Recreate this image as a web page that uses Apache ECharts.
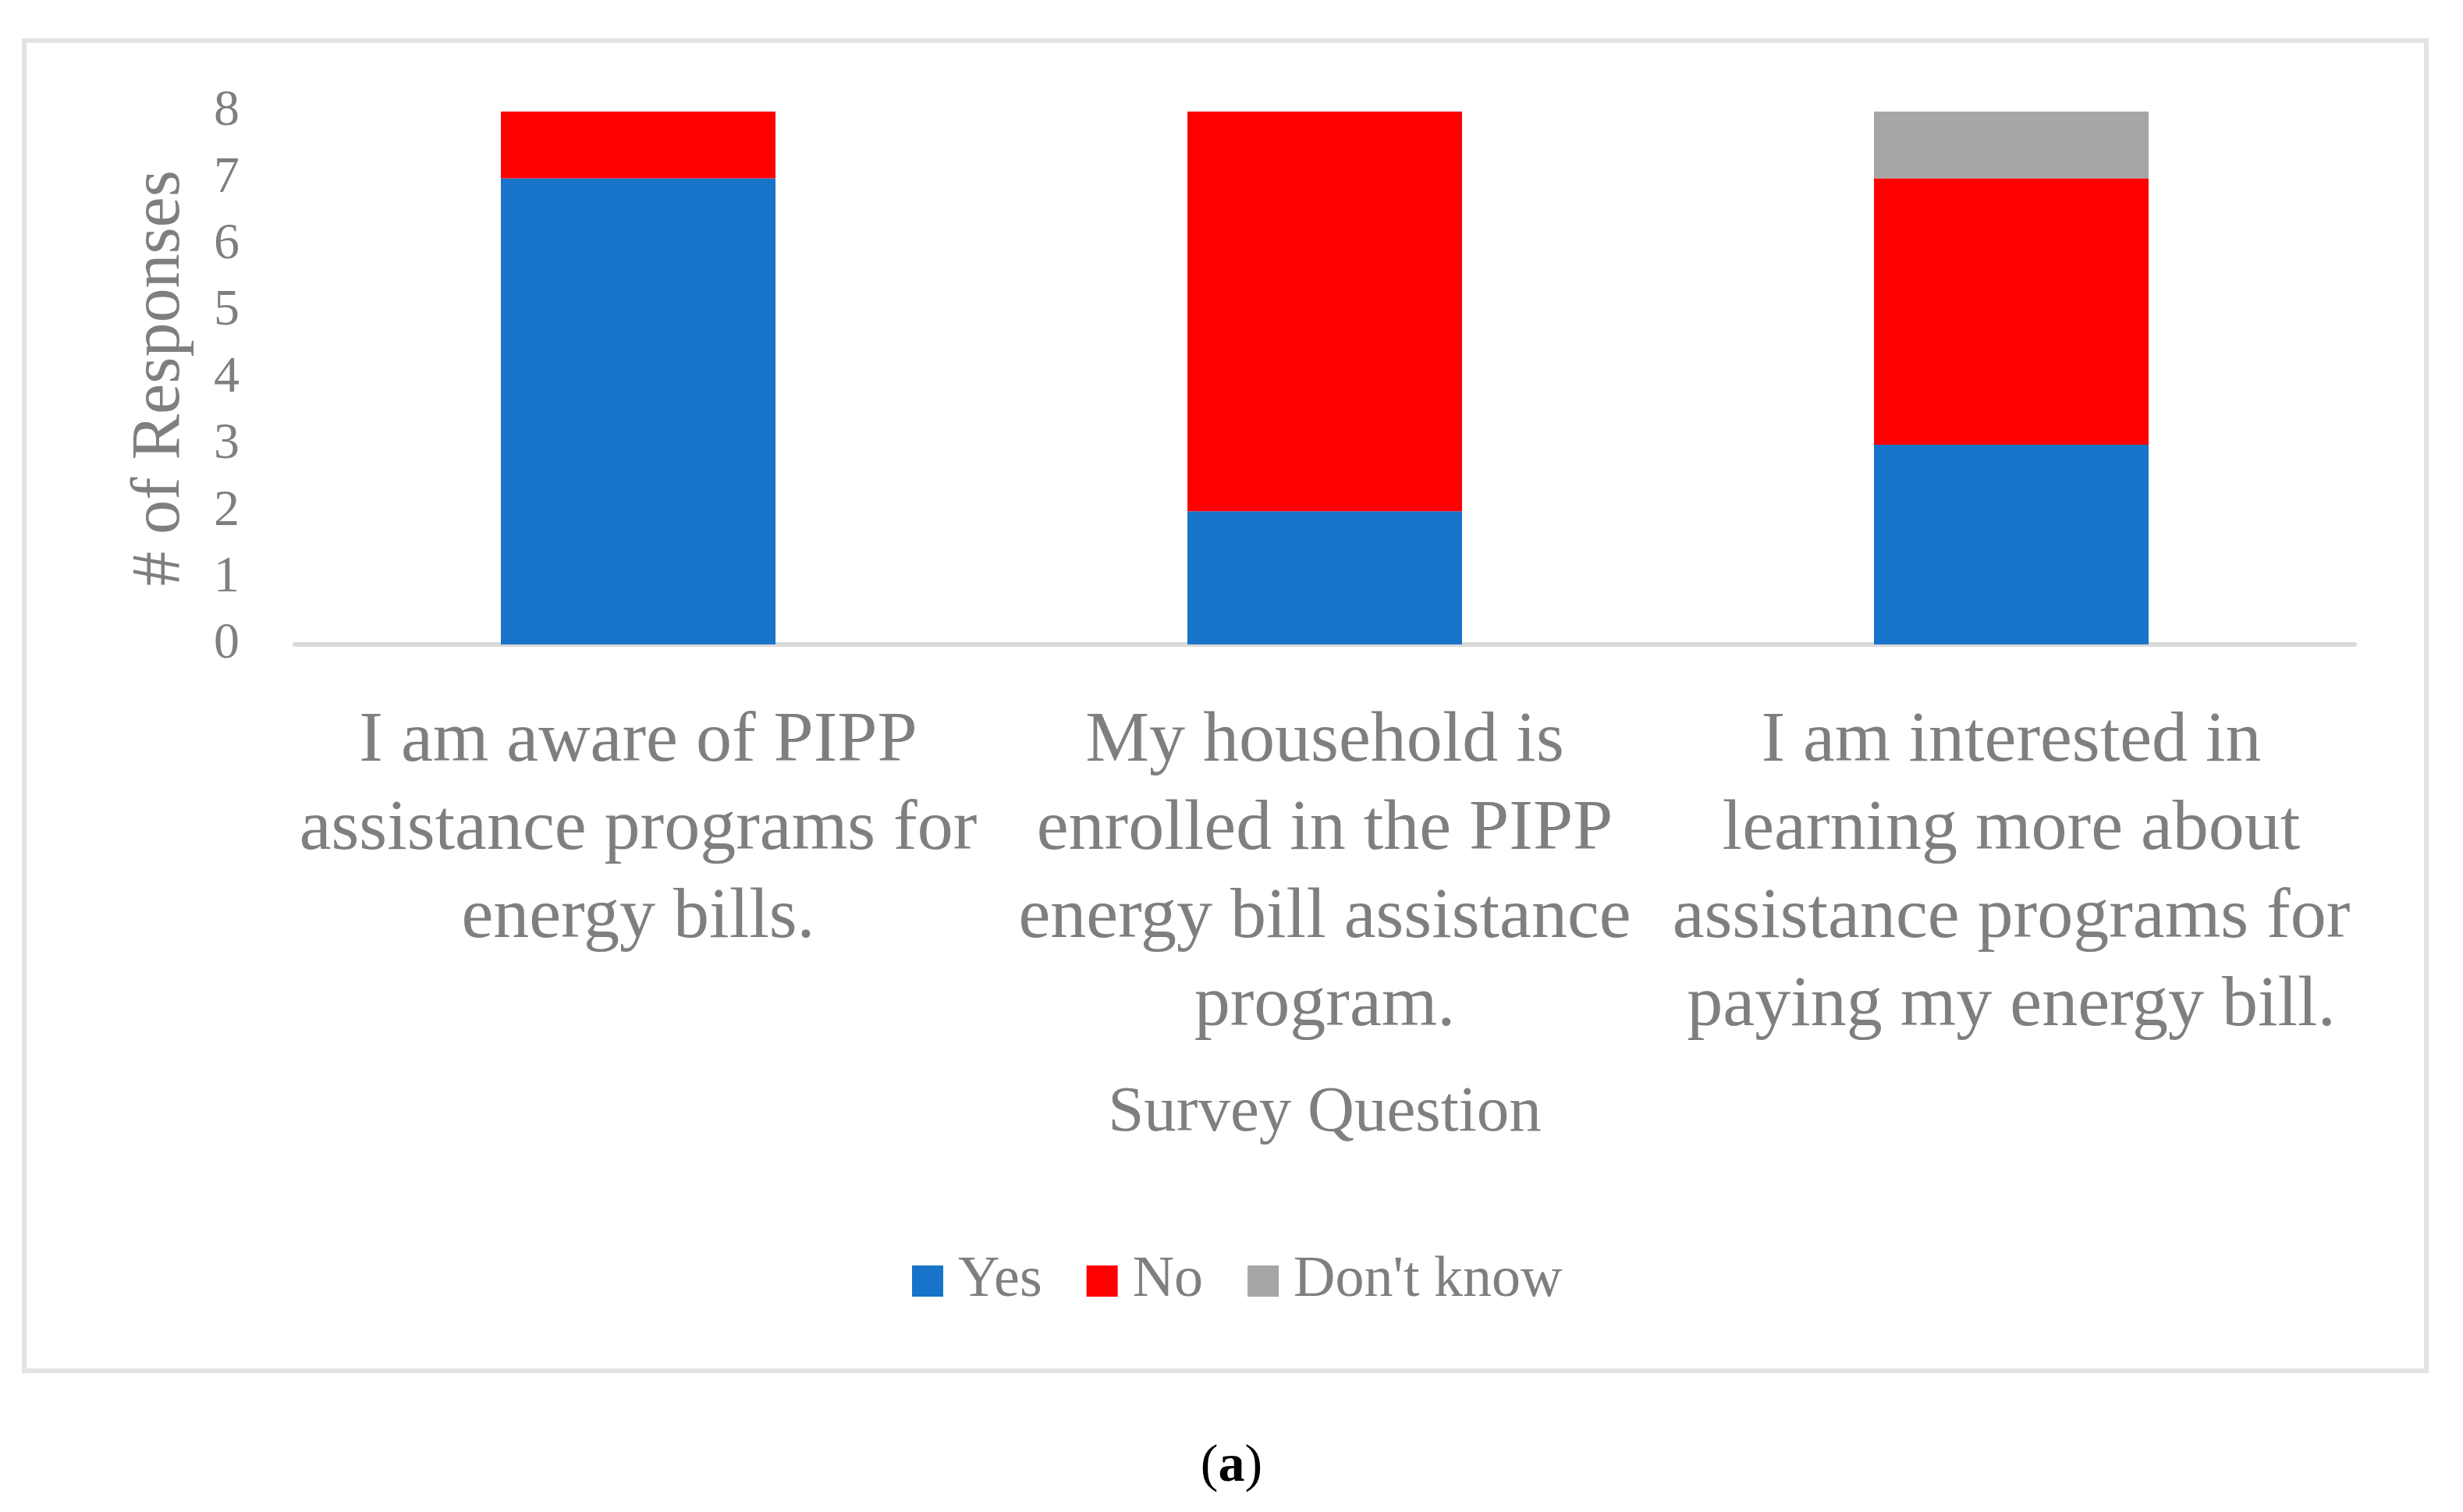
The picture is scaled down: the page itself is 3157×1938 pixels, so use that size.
<!DOCTYPE html>
<html>
<head>
<meta charset="utf-8">
<script src="https://cdn.jsdelivr.net/npm/echarts@6/dist/echarts.min.js"></script>
<style>
html,body{margin:0;padding:0;background:#ffffff;}
#chart{width:3157px;height:1938px;}
</style>
</head>
<body>
<div id="chart"></div>
<script>
const categories = [
  'I am aware of PIPP\nassistance programs for\nenergy bills.',
  'My household is\nenrolled in the PIPP\nenergy bill assistance\nprogram.',
  'I am interested in\nlearning more about\nassistance programs for\npaying my energy bill.'
];
const yesValues = [7, 2, 3];
const noValues = [1, 6, 4];
const dontKnowValues = [0, 0, 1];
const yTicks = [0, 1, 2, 3, 4, 5, 6, 7, 8];

const FONT = '"Liberation Serif", "Times New Roman", serif';
const GRAY = '#7F7F7F';

const chart = echarts.init(document.getElementById('chart'));
chart.setOption({
  backgroundColor: '#ffffff',
  animation: false,
  textStyle: { fontFamily: FONT },
  graphic: [
    {
      type: 'rect',
      shape: { x: 31, y: 52, width: 3079, height: 1705 },
      style: { fill: 'none', stroke: '#E3E3E3', lineWidth: 6 },
      z: -1
    },
    {
      type: 'text',
      left: 'center',
      top: 1846,
      style: {
        text: '({b|a})',
        fontFamily: FONT,
        fontSize: 68,
        fill: '#000000',
        rich: { b: { fontFamily: FONT, fontSize: 68, fontWeight: 'bold', fill: '#000000' } }
      }
    }
  ],
  legend: {
    left: 1164,
    top: 1600,
    itemWidth: 40,
    itemHeight: 40,
    itemGap: 57,
    icon: 'rect',
    textStyle: { fontFamily: FONT, fontSize: 74, color: GRAY, padding: [0, 0, 0, 14] },
    data: ['Yes', 'No', "Don't know"]
  },
  grid: { left: 378, right: 139, top: 143, bottom: 1112, containLabel: false },
  xAxis: {
    type: 'category',
    data: categories,
    name: 'Survey Question',
    nameLocation: 'middle',
    nameGap: 560,
    nameTextStyle: { fontFamily: FONT, fontSize: 83, color: GRAY },
    axisLine: { show: true, lineStyle: { color: '#D9D9D9', width: 6 } },
    axisTick: { show: false },
    axisLabel: {
      interval: 0,
      margin: 68,
      fontFamily: FONT,
      fontSize: 92,
      lineHeight: 113,
      color: GRAY,
      align: 'center'
    }
  },
  yAxis: {
    type: 'value',
    min: 0,
    max: 8,
    interval: 1,
    name: '# of Responses',
    nameLocation: 'middle',
    nameGap: 128,
    nameTextStyle: { fontFamily: FONT, fontSize: 88, color: GRAY },
    axisLine: { show: false },
    axisTick: { show: false },
    splitLine: { show: false },
    axisLabel: {
      margin: 71,
      fontFamily: FONT,
      fontSize: 66,
      color: GRAY,
      formatter: function (v) { return yTicks.indexOf(v) >= 0 ? String(v) : ''; }
    }
  },
  series: [
    { name: 'Yes', type: 'bar', stack: 'total', barWidth: '40%', data: yesValues, itemStyle: { color: '#1874C8' } },
    { name: 'No', type: 'bar', stack: 'total', barWidth: '40%', data: noValues, itemStyle: { color: '#FF0000' } },
    { name: "Don't know", type: 'bar', stack: 'total', barWidth: '40%', data: dontKnowValues, itemStyle: { color: '#A6A6A6' } }
  ]
});
</script>
</body>
</html>
